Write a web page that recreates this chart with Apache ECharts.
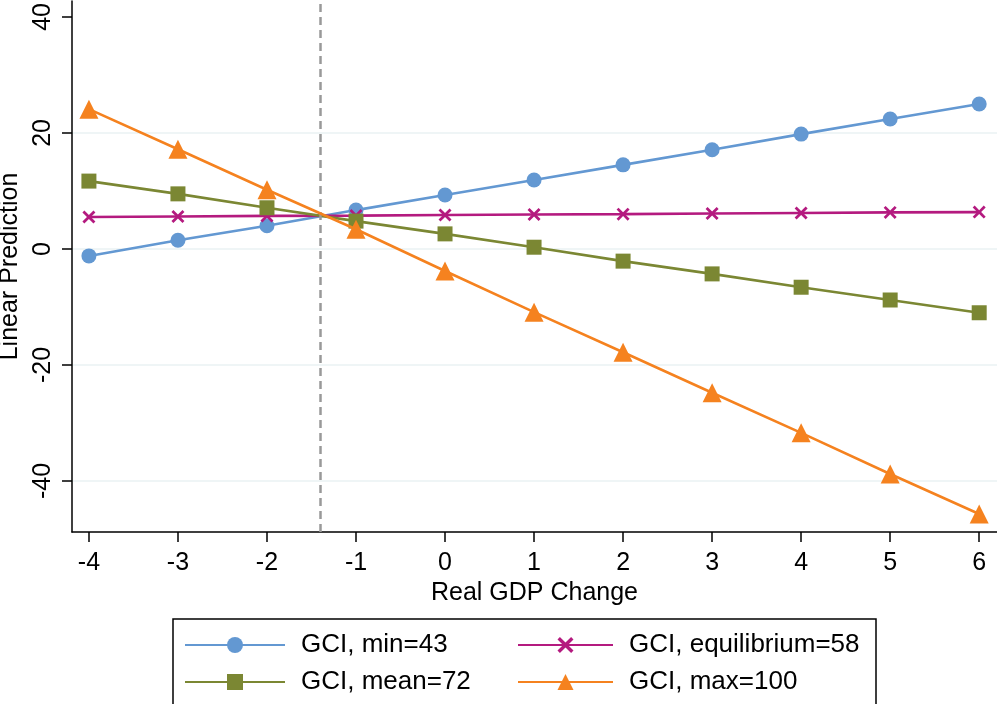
<!DOCTYPE html>
<html>
<head>
<meta charset="utf-8">
<script src="https://cdn.jsdelivr.net/npm/echarts@6/dist/echarts.min.js"></script>
<style>
html,body{margin:0;padding:0;background:#fff;}
#chart{width:997px;height:704px;}
</style>
</head>
<body>
<div id="chart"></div>
<script>
var gdpChange = [-4, -3, -2, -1, 0, 1, 2, 3, 4, 5, 6];
var gciMin = [-1.2, 1.5, 4.0, 6.7, 9.3, 11.9, 14.5, 17.1, 19.8, 22.4, 25.0];
var gciEquilibrium = [5.5, 5.6, 5.7, 5.75, 5.85, 5.95, 6.0, 6.1, 6.2, 6.3, 6.35];
var gciMean = [11.7, 9.5, 7.1, 4.8, 2.6, 0.3, -2.1, -4.3, -6.6, -8.8, -11.0];
var gciMax = [24.1, 17.2, 10.2, 3.4, -3.8, -10.9, -17.8, -24.8, -31.7, -38.8, -45.7];
var seriesNames = ['GCI, min=43', 'GCI, equilibrium=58', 'GCI, mean=72', 'GCI, max=100'];
var yTicks = [-40, -20, 0, 20, 40];
var xTicks = [-4, -3, -2, -1, 0, 1, 2, 3, 4, 5, 6];
var refLineX = -1.4;

function pairs(ys) { return gdpChange.map(function (x, i) { return [x, ys[i]]; }); }

var FONT = '"Liberation Sans", Arial, Helvetica, sans-serif';
var crossPath = 'path://M0,1.5L1.5,0L5,3.5L8.5,0L10,1.5L6.5,5L10,8.5L8.5,10L5,6.5L1.5,10L0,8.5L3.5,5Z';

var colors = ['#6398d2', '#b41a7f', '#7b8733', '#f5821f'];
var symbols = ['circle', crossPath, 'rect', 'triangle'];
var sizes = [15, 13, 15, 19];
var datas = [gciMin, gciEquilibrium, gciMean, gciMax];

var series = datas.map(function (d, i) {
  var s = {
    name: seriesNames[i],
    type: 'line',
    data: pairs(d),
    symbol: symbols[i],
    symbolSize: sizes[i],
    showAllSymbol: true,
    z: 2 + i,
    itemStyle: { color: colors[i], opacity: 1 },
    lineStyle: { color: colors[i], width: 2.6 },
    emphasis: { disabled: true },
    animation: false
  };
  if (i === 0) {
    s.markLine = {
      silent: true,
      symbol: ['none', 'none'],
      label: { show: false },
      lineStyle: { color: '#999999', type: [8, 5], width: 2.5 },
      data: [{ xAxis: refLineX }],
      animation: false
    };
  }
  return s;
});

var legendCommon = {
  orient: 'vertical',
  padding: 0,
  itemGap: 7,
  itemHeight: 20,
  selectedMode: false,
  textStyle: { fontFamily: FONT, fontSize: 26, color: '#000', lineHeight: 30, padding: [0, 0, 0, 11] },
  top: 630
};

var chart = echarts.init(document.getElementById('chart'), null, { renderer: 'canvas' });
chart.setOption({
  animation: false,
  backgroundColor: '#fff',
  grid: { left: 72, right: 0, top: 1, bottom: 172, containLabel: false, outerBoundsMode: 'none' },
  xAxis: {
    type: 'value',
    min: -4.19,
    max: 6.2,
    name: 'Real GDP Change',
    nameLocation: 'middle',
    nameGap: 43,
    nameTextStyle: { fontFamily: FONT, fontSize: 25, color: '#000' },
    axisLine: { show: true, onZero: false, lineStyle: { color: '#000', width: 1.5 } },
    axisTick: { show: true, length: 10, inside: false, lineStyle: { color: '#000', width: 1.5 }, customValues: xTicks },
    axisLabel: { fontFamily: FONT, fontSize: 25, color: '#000', margin: 19, customValues: xTicks },
    splitLine: { show: false }
  },
  yAxis: {
    type: 'value',
    min: -48.8,
    max: 42.75,
    name: 'Linear Prediction',
    nameLocation: 'middle',
    nameGap: 41,
    nameRotate: 90,
    nameTextStyle: { fontFamily: FONT, fontSize: 25, color: '#000' },
    axisLine: { show: true, onZero: false, lineStyle: { color: '#000', width: 1.5 } },
    axisTick: { show: true, length: 10, inside: false, lineStyle: { color: '#000', width: 1.5 }, customValues: yTicks },
    axisLabel: { fontFamily: FONT, fontSize: 25, color: '#000', margin: 16, rotate: 90, customValues: yTicks },
    splitLine: { show: true, lineStyle: { color: ['#eaf2f3', '#eaf2f3', '#eaf2f3', '#eaf2f3', 'rgba(0,0,0,0)'], width: 1.5 } }
  },
  legend: [
    Object.assign({}, legendCommon, { left: 184, itemWidth: 100, data: [seriesNames[0], seriesNames[2]] }),
    Object.assign({}, legendCommon, { left: 517, itemWidth: 95, data: [seriesNames[1], seriesNames[3]] })
  ],
  graphic: [{
    type: 'rect',
    shape: { x: 173, y: 619, width: 703, height: 110 },
    style: { fill: 'none', stroke: '#000', lineWidth: 1.5 },
    silent: true,
    z: 0
  }],
  series: series
});
</script>
</body>
</html>
